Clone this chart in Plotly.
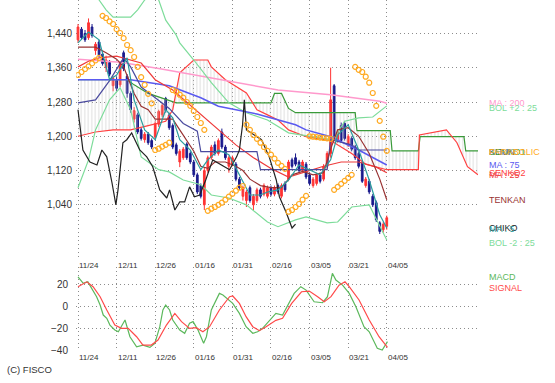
import plotly.graph_objects as go

# ---------------- data ----------------
date_ticks = [0, 11, 22, 33, 44, 55, 66, 77, 88]
date_labels = ["11/24", "12/11", "12/26", "01/16", "01/31", "02/16", "03/05", "03/21", "04/05"]

days = list(range(89))
opens = [1425, 1450, 1440, 1430, 1455, 1400, 1420, 1392, 1360, 1372,
         1318, 1330, 1320, 1395, 1340, 1300, 1240, 1250, 1215, 1192,
         1205, 1190, 1198, 1228, 1250, 1288, 1250, 1225, 1180, 1140,
         1150, 1182, 1160, 1140, 1110, 1085, 1040, 1120, 1150, 1180,
         1160, 1210, 1175, 1130, 1135, 1135, 1100, 1060, 1050, 1080,
         1040, 1050, 1075, 1065, 1060, 1080, 1065, 1085, 1060, 1090,
         1100, 1145, 1150, 1140, 1120, 1135, 1110, 1085, 1090, 1110,
         1100, 1130, 1160, 1318, 1190, 1225, 1230, 1180, 1195, 1175,
         1160, 1138, 1085, 1095, 1060, 1045, 998, 982, 990]
highs = [1462, 1455, 1448, 1475, 1462, 1420, 1425, 1398, 1388, 1378,
         1340, 1338, 1375, 1400, 1345, 1305, 1268, 1255, 1220, 1210,
         1210, 1195, 1235, 1262, 1278, 1292, 1255, 1230, 1185, 1170,
         1175, 1186, 1165, 1145, 1115, 1090, 1128, 1155, 1180, 1188,
         1195, 1218, 1180, 1155, 1155, 1140, 1105, 1085, 1075, 1085,
         1065, 1080, 1080, 1090, 1085, 1085, 1085, 1090, 1090, 1095,
         1145, 1150, 1160, 1145, 1145, 1140, 1115, 1105, 1115, 1115,
         1135, 1165, 1360, 1322, 1215, 1232, 1236, 1205, 1200, 1180,
         1165, 1142, 1105, 1100, 1065, 1050, 1002, 1000, 1015]
lows = [1418, 1425, 1420, 1425, 1430, 1390, 1385, 1365, 1350, 1340,
        1305, 1305, 1315, 1352, 1290, 1255, 1232, 1205, 1190, 1185,
        1180, 1170, 1192, 1222, 1245, 1255, 1215, 1170, 1155, 1128,
        1145, 1145, 1135, 1105, 1065, 1055, 1028, 1115, 1145, 1155,
        1155, 1170, 1145, 1115, 1130, 1095, 1075, 1050, 1035, 1045,
        1028, 1045, 1055, 1060, 1055, 1060, 1060, 1065, 1055, 1070,
        1095, 1125, 1130, 1115, 1115, 1100, 1085, 1080, 1085, 1090,
        1095, 1125, 1150, 1195, 1185, 1185, 1190, 1175, 1165, 1145,
        1125, 1091, 1080, 1065, 1035, 1000, 972, 975, 982]
closes = [1455, 1430, 1425, 1465, 1435, 1415, 1390, 1370, 1378, 1345,
          1335, 1312, 1370, 1358, 1300, 1262, 1260, 1210, 1195, 1205,
          1185, 1175, 1230, 1258, 1272, 1260, 1220, 1175, 1160, 1165,
          1170, 1150, 1140, 1110, 1070, 1060, 1120, 1150, 1175, 1160,
          1190, 1175, 1150, 1150, 1150, 1100, 1080, 1080, 1070, 1050,
          1060, 1075, 1060, 1085, 1080, 1065, 1080, 1070, 1085, 1075,
          1140, 1130, 1135, 1120, 1140, 1105, 1090, 1100, 1110, 1095,
          1130, 1160, 1285, 1200, 1210, 1190, 1195, 1200, 1170, 1150,
          1130, 1095, 1100, 1070, 1040, 1005, 978, 995, 1010]

ma5_x = [0, 3, 6, 9, 11, 14, 16, 19, 22, 25, 27, 29, 32, 35, 37, 40, 43, 46, 49, 52,
         54, 57, 60, 63, 66, 69, 72, 74, 77, 80, 83, 86, 88]
ma5_y = [1418, 1443, 1425, 1332, 1343, 1383, 1285, 1215, 1192, 1262, 1243, 1192, 1168,
         1122, 1145, 1168, 1157, 1110, 1063, 1063, 1070, 1075, 1098, 1133, 1122, 1110,
         1145, 1203, 1227, 1168, 1098, 1017, 986]

ma25_x = [0, 3, 6, 11, 18, 22, 27, 31, 35, 40, 45, 50, 55, 60, 65, 70, 75, 80, 85, 88]
ma25_y = [1362, 1375, 1383, 1387, 1371, 1332, 1308, 1280, 1250, 1215, 1180, 1150, 1125,
          1105, 1118, 1130, 1140, 1140, 1128, 1115]

ma75_x = [0, 15, 26, 35, 40, 51, 62, 65, 72, 80, 88]
ma75_y = [1332, 1332, 1318, 1290, 1270, 1252, 1227, 1215, 1199, 1168, 1133]

ma200_x = [0, 12, 23, 35, 46, 57, 72, 86, 88]
ma200_y = [1380, 1373, 1358, 1340, 1324, 1308, 1297, 1282, 1277]

bolu_x = [0, 4, 6, 8, 10, 15, 17, 19, 21, 23, 25, 28, 29, 33, 38, 43, 48, 54, 60, 72,
          73, 76, 80, 84, 88]
bolu_y = [1560, 1540, 1518, 1495, 1478, 1478, 1495, 1518, 1535, 1518, 1471, 1436, 1418,
          1378, 1325, 1278, 1255, 1238, 1208, 1192, 1195, 1235, 1243, 1245, 1271]

boll_x = [0, 3, 5, 9, 12, 15, 18, 23, 26, 30, 35, 38, 43, 48, 54, 57, 62, 65, 71, 74,
          78, 83, 88]
boll_y = [1080, 1145, 1215, 1285, 1313, 1262, 1152, 1122, 1117, 1098, 1087, 1063, 1056,
          1040, 1000, 989, 1005, 1012, 998, 1000, 1035, 1040, 958]

tenkan_x = [0, 5, 8, 11, 13, 16, 18, 20, 22, 25, 27, 29, 31, 33, 35, 37, 39, 42, 45, 47,
            49, 52, 55, 58, 61, 64, 67, 70, 72, 74, 77, 80, 83, 86, 88]
tenkan_y = [1408, 1408, 1395, 1380, 1362, 1300, 1270, 1262, 1240, 1240, 1240, 1215, 1190,
            1165, 1130, 1125, 1140, 1140, 1130, 1120, 1100, 1085, 1080, 1080, 1110, 1118,
            1110, 1115, 1170, 1215, 1220, 1200, 1160, 1100, 1052]

kijun_x = [0, 5, 9, 13, 15, 18, 22, 26, 30, 34, 35, 51, 52, 71, 72, 78, 80, 88]
kijun_y = [1278, 1285, 1330, 1383, 1362, 1315, 1290, 1265, 1230, 1212, 1164, 1164, 1122,
           1122, 1192, 1180, 1168, 1168]

senkoa_x = [0, 5, 10, 15, 20, 25, 27, 29, 33, 37, 38, 42, 48, 51, 54, 57, 60, 65, 72,
            78, 82, 88, 97, 97.3, 105, 108, 111, 114]
senkoa_y = [1200, 1210, 1215, 1215, 1225, 1235, 1262, 1348, 1378, 1378, 1362, 1332,
            1301, 1262, 1250, 1238, 1215, 1199, 1190, 1160, 1135, 1122, 1122, 1203, 1215,
            1185, 1129, 1110]

senkob_x = [0, 14, 16, 20, 28, 55, 56, 58, 60, 62, 79, 79.5, 89, 89.5, 97, 97.5, 110,
            110.5, 114]
senkob_y = [1332, 1332, 1320, 1300, 1278, 1278, 1300, 1300, 1265, 1255, 1255, 1213, 1213,
            1166, 1166, 1199, 1199, 1166, 1166]

chiko_x = [0, 1.4, 3.4, 5.4, 6.8, 8.2, 9.7, 10.8, 11.4, 12.8, 13.9, 15.3, 16.2, 17.6,
           19.6, 21.3, 23.3, 25.3, 26.1, 27.6, 29, 30.4, 31.8, 33.2, 34.7, 36.4, 38.4,
           40.9, 43.2, 45.2, 46, 46.9, 47.4, 48, 50.3, 52.3, 54.5, 56.5, 57.4, 59.4, 61,
           62]
chiko_y = [1262, 1168, 1140, 1133, 1168, 1152, 1091, 1040, 1075, 1185, 1192, 1208, 1192,
           1168, 1152, 1129, 1075, 1056, 1075, 1028, 1047, 1047, 1082, 1059, 1063, 1098,
           1145, 1133, 1122, 1152, 1168, 1227, 1285, 1215, 1203, 1192, 1152, 1098, 1059,
           1021, 986, 995]

sar_x = [0, 1, 2, 3, 4, 5, 6,
         7, 8, 9, 10, 11, 12, 13, 14, 15, 16, 17, 18, 19, 20, 21,
         22, 23, 24, 25, 26,
         27, 28, 29, 30, 31, 32, 33, 34, 35, 36,
         37, 38, 39, 40, 41, 42, 43, 44, 45, 46, 47,
         48, 49, 50, 51, 52, 53, 54, 55, 56, 57, 58, 59,
         60, 61, 62, 63, 64, 65,
         66, 67, 68, 69, 70, 71, 72,
         73, 74, 75, 76, 77, 78,
         79, 80, 81, 82, 83, 84, 85, 86, 87, 88]
sar_y = [1343, 1350, 1357, 1363, 1370, 1377, 1383,
         1481, 1476, 1468, 1462, 1450, 1441, 1429, 1413, 1401, 1385, 1362, 1338, 1320,
         1299, 1277,
         1168, 1171, 1176, 1180, 1185,
         1308, 1304, 1297, 1290, 1280, 1271, 1259, 1245, 1231, 1215,
         1026, 1031, 1035, 1040, 1045, 1052, 1059, 1066, 1073, 1080, 1084,
         1227, 1215, 1203, 1194, 1185, 1175, 1166, 1157, 1148, 1138, 1131, 1124,
         1024, 1028, 1035, 1042, 1052, 1061,
         1200, 1199, 1198, 1197, 1196, 1195, 1194,
         1075, 1082, 1089, 1096, 1103, 1110,
         1362, 1355, 1350, 1339, 1325, 1301, 1271, 1236, 1199, 1166]

macd_x = [0, 1.5, 2.8, 5.3, 6.3, 7.2, 8.2, 9.1, 10.5, 11.5, 13.4, 14.8, 16.7, 18.5, 20.5,
          21.9, 23.3, 24.2, 25, 26.1, 27, 29, 30.4, 31.8, 32.8, 34.2, 35.8, 36.6, 38, 40.3,
          41.3, 44.1, 46, 47.9, 49.8, 51.2, 52.6, 54.5, 56.4, 58.3, 60.2, 61.6, 63.5, 65,
          67.3, 69.7, 71.1, 72.5, 73.5, 75.4, 77.3, 79.2, 81.5, 83, 85.3, 86.7, 88.2]
macd_y = [26.6, 20.6, 22, 8.5, 0.9, -8.2, -11.2, -17.3, -21.8, -23.4, -12.7, -27.9, -37,
          -35.5, -37.6, -34, -19, -3.6, 0.9, -3.6, -12.7, -21.8, -24.8, -15.7, -14.2, -21.8,
          -33.9, -27.9, -3.6, 11.5, 10, 2.4, -6.7, -18.8, -24.8, -23.4, -20.3, -13, -6.7,
          -8.2, 3.9, 11.5, 17.6, 14.5, 3.9, 3, 8.5, 29.7, 23.6, 19, 11.5, -0.6, -18.8,
          -23.4, -38.5, -40, -32.4]

signal_x = [0, 2.5, 4.3, 6.3, 8.2, 10.5, 12.4, 14.3, 16.7, 18.5, 20.9, 22.8, 25.2, 27.6,
            29.5, 31.8, 33.7, 35.6, 37.5, 40.3, 43.2, 44.1, 46, 47.9, 49.8, 51.7, 53.6,
            56.4, 58.3, 60.9, 63.7, 65.9, 68.3, 70.2, 72.1, 74.4, 76.1, 77.3, 80.1, 83,
            85.8, 88.2]
signal_y = [17.6, 22, 17.6, 8.5, -3.6, -17.3, -20.3, -20.3, -27.9, -35.5, -35.5, -30.9,
            -17.3, -6.7, -14.2, -20.3, -19.7, -23.4, -18.8, -3.6, 8.5, 9.1, 2.4, -9.7,
            -18.8, -22.4, -18.8, -13, -11.2, 2.4, 13, 13.6, 8.5, 3.9, 8.5, 19, 22, 17.6,
            5.5, -12.7, -27.9, -37.5]

price_ticks = [1040, 1120, 1200, 1280, 1360, 1440]
macd_ticks = [20, 0, -20, -40]

# ---------------- styles ----------------
C_UP = "#ff3333"
C_DN = "#1a1a8c"
C_MA5 = "#2a9d9d"
C_MA25 = "#ee3a3a"
C_MA75 = "#5a5af0"
C_MA200 = "#ff99cc"
C_BOL = "#7ddc9a"
C_TENKAN = "#993333"
C_KIJUN = "#4a4a9e"
C_SENKOA = "#ff4040"
C_SENKOB = "#3a9a3a"
C_CHIKO = "#222222"
C_SAR = "#ffaa22"
C_MACD = "#5cb85c"
C_SIG = "#ff4a4a"
FONT = "Liberation Sans"

fig = go.Figure()

def line(x, y, color, yaxis="y", xaxis="x", width=1.2, **kw):
    fig.add_trace(go.Scatter(x=x, y=y, mode="lines", line=dict(color=color, width=width),
                             xaxis=xaxis, yaxis=yaxis, hoverinfo="skip", showlegend=False,
                             **kw))

# ichimoku cloud (hatched)
line(senkob_x, senkob_y, C_SENKOB)
fig.add_trace(go.Scatter(x=senkoa_x, y=senkoa_y, mode="lines",
                         line=dict(color=C_SENKOA, width=1.2), fill="tonexty",
                         fillcolor="rgba(0,0,0,0)",
                         fillpattern=dict(shape="|", fgcolor="#c0c0c0",
                                          bgcolor="rgba(0,0,0,0)", size=3.5,
                                          solidity=0.3, fillmode="overlay"),
                         showlegend=False, hoverinfo="skip"))

line(ma200_x, ma200_y, C_MA200, width=1.5)
line(bolu_x, bolu_y, C_BOL)
line(boll_x, boll_y, C_BOL)
line(ma75_x, ma75_y, C_MA75, width=1.5)
line(ma25_x, ma25_y, C_MA25)
line(kijun_x, kijun_y, C_KIJUN)
line(tenkan_x, tenkan_y, C_TENKAN)
line(chiko_x, chiko_y, C_CHIKO)

fig.add_trace(go.Candlestick(x=days, open=opens, high=highs, low=lows, close=closes,
                             increasing=dict(line=dict(color=C_UP, width=1), fillcolor=C_UP),
                             decreasing=dict(line=dict(color=C_DN, width=1), fillcolor=C_DN),
                             whiskerwidth=0, showlegend=False, hoverinfo="skip"))
line(ma5_x, ma5_y, C_MA5)

fig.add_trace(go.Scatter(x=sar_x, y=sar_y, mode="markers",
                         marker=dict(symbol="circle-open", size=5, color=C_SAR,
                                     line=dict(width=1.2, color=C_SAR)),
                         showlegend=False, hoverinfo="skip"))

# MACD panel
line(macd_x, macd_y, C_MACD, yaxis="y2", xaxis="x2")
line(signal_x, signal_y, C_SIG, yaxis="y2", xaxis="x2")

grid = dict(showgrid=True, gridcolor="#8c8c8c", griddash="1px,3px", gridwidth=1,
            zeroline=False, showline=False, ticks="")

H = 383
M_T, M_B = 0, 32
PH = H - M_T - M_B
M_L, M_R = 76, 77
PW = 555 - M_L - M_R


def py(ypx):
    return 1 - (ypx - M_T) / PH


def px(xpx):
    return (xpx - M_L) / PW


fig.update_layout(
    width=555, height=H,
    margin=dict(l=M_L, r=M_R, t=M_T, b=M_B),
    paper_bgcolor="white", plot_bgcolor="white",
    showlegend=False,
    xaxis=dict(range=[-0.57, 114], tickvals=date_ticks, showticklabels=False,
               rangeslider=dict(visible=False), **grid),
    yaxis=dict(range=[916, 1518], domain=[py(258), 1], tickvals=price_ticks,
               ticktext=[f"{v:,}" for v in price_ticks], ticklabelstandoff=3,
               tickfont=dict(family=FONT, size=10, color="#333"), **grid),
    xaxis2=dict(range=[-0.57, 114], tickvals=date_ticks, showticklabels=False,
                anchor="y2", **grid),
    yaxis2=dict(range=[-40.9, 35.5], domain=[0, py(267)], tickvals=macd_ticks,
                ticklabelstandoff=7, anchor="x2",
                tickfont=dict(family=FONT, size=10, color="#333"), **grid),
)

ann = []
for d, lab in zip(date_ticks, date_labels):
    for ypx in (265, 357):
        ann.append(dict(x=d, y=py(ypx), xref="x", yref="paper", text=lab, showarrow=False,
                        xanchor="left", yanchor="middle", xshift=-1,
                        font=dict(family=FONT, size=8, color="#333")))

labels = [
    ("MA : 200", C_MA200, 103),
    ("BOL +2 : 25", C_BOL, 108),
    ("KIJUN", C_KIJUN, 152),
    ("SENKO1", C_SENKOB, 152),
    ("PARABOLIC", C_SAR, 152),
    ("MA : 75", C_MA75, 165),
    ("SENKO2", C_SENKOA, 173),
    ("MA : 25", C_MA25, 175),
    ("TENKAN", C_TENKAN, 200),
    ("CHIKO", C_CHIKO, 228),
    ("MA : 5", C_MA5, 229),
    ("BOL -2 : 25", C_BOL, 243),
    ("MACD", C_MACD, 277),
    ("SIGNAL", C_SIG, 288),
]
for text, color, ypx in labels:
    ann.append(dict(x=px(487), y=py(ypx), xref="paper", yref="paper", text=text,
                    showarrow=False, xanchor="left", yanchor="middle",
                    font=dict(family=FONT, size=9, color=color)))
ann.append(dict(x=px(5), y=py(369), xref="paper", yref="paper", text="(C) FISCO",
                showarrow=False, xanchor="left", yanchor="middle",
                font=dict(family=FONT, size=9.5, color="#333")))
fig.update_layout(annotations=ann)

fig.write_html("out.html", config={"displayModeBar": False, "staticPlot": True},
               post_script="document.body.style.margin='0';")
